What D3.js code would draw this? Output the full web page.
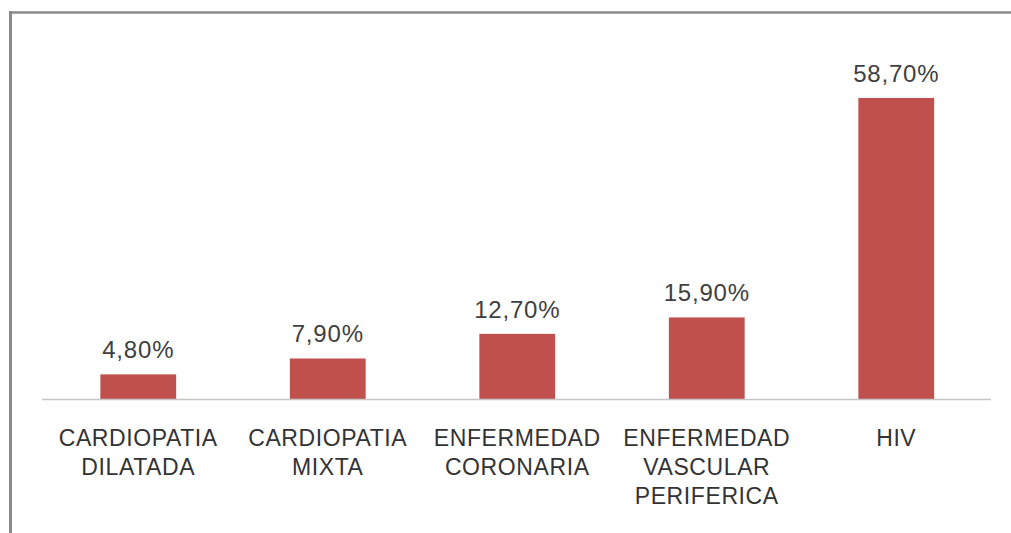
<!DOCTYPE html>
<html><head><meta charset="utf-8">
<script src="https://cdn.jsdelivr.net/npm/d3@7"></script>
<style>body{margin:0;background:#fff;}svg{display:block;}</style>
</head><body>
<svg id="c" width="1011" height="533"></svg>
<script>
const categories = [["CARDIOPATIA","DILATADA"],["CARDIOPATIA","MIXTA"],["ENFERMEDAD","CORONARIA"],["ENFERMEDAD","VASCULAR","PERIFERICA"],["HIV"]];
const values = [4.8, 7.9, 12.7, 15.9, 58.7];
const valueLabels = ["4,80%","7,90%","12,70%","15,90%","58,70%"];

const svg = d3.select("#c");
const W = 1011, H = 533;
// frame
svg.append("line").attr("x1",10.5).attr("x2",10.5).attr("y1",11).attr("y2",H).attr("stroke","#8a8a8a").attr("stroke-width",3);
svg.append("line").attr("x1",9).attr("x2",W).attr("y1",12.5).attr("y2",12.5).attr("stroke","#8a8a8a").attr("stroke-width",2.5);

const keys = categories.map((d,i)=>i);
const x = d3.scaleBand().domain(keys).range([43.5, 991]).paddingInner(0.6).paddingOuter(0.3);
const y = d3.scaleLinear().domain([0, 70]).range([399, 40]);

svg.selectAll("rect.bar").data(values).join("rect").attr("class","bar")
  .attr("x",(d,i)=>x(i)).attr("width",x.bandwidth())
  .attr("y",d=>y(d)).attr("height",d=>y(0)-y(d)).attr("fill","#c0504d");

svg.append("line").attr("x1",42).attr("x2",991).attr("y1",y(0)+0.5).attr("y2",y(0)+0.5).attr("stroke","#c6c6c6").attr("stroke-width",1.5);

const font = "'Liberation Sans', Arial, sans-serif";
svg.selectAll("text.val").data(values).join("text").attr("class","val")
  .attr("x",(d,i)=>x(i)+x.bandwidth()/2).attr("y",d=>y(d)-16)
  .attr("text-anchor","middle").attr("font-family",font).attr("font-size",24)
  .attr("letter-spacing",0.8).attr("fill","#404040").text((d,i)=>valueLabels[i]);

const g = svg.selectAll("text.cat").data(categories).join("text").attr("class","cat")
  .attr("text-anchor","middle").attr("font-family",font).attr("font-size",23)
  .attr("letter-spacing",0.6).attr("fill","#333");
g.selectAll("tspan").data((d,i)=>d.map(t=>({t,i}))).join("tspan")
  .attr("x",d=>x(d.i)+x.bandwidth()/2).attr("y",(d,j)=>446+j*29).text(d=>d.t);
</script>
</body></html>
